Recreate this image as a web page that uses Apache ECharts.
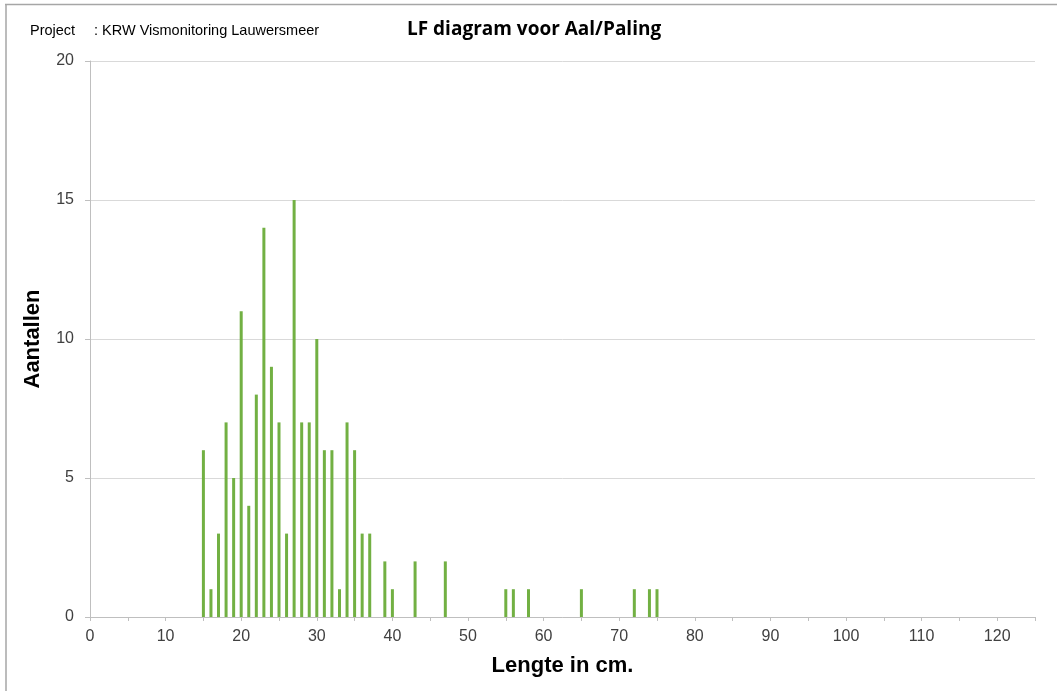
<!DOCTYPE html>
<html>
<head>
<meta charset="utf-8">
<script src="https://cdn.jsdelivr.net/npm/echarts@6/dist/echarts.min.js"></script>
<style>html,body{margin:0;padding:0;background:#fff;}#c{width:1057px;height:691px;}</style>
</head>
<body>
<div id="c"></div>
<script>
const lengths = [15,16,17,18,19,20,21,22,23,24,25,26,27,28,29,30,31,32,33,34,35,36,37,39,40,43,47,55,56,58,65,72,74,75];
const counts  = [6,1,3,7,5,11,4,8,14,9,7,3,15,7,7,10,6,6,1,7,6,3,3,2,1,2,2,1,1,1,1,1,1,1];
const xTicks = [0,10,20,30,40,50,60,70,80,90,100,110,120];
const yTicks = [0,5,10,15,20];

const chart = echarts.init(document.getElementById('c'), null, {renderer:'canvas'});
const data = lengths.map((x,i)=>[x,counts[i]]);
chart.setOption({
  animation:false,
  backgroundColor:'#ffffff',
  grid:{left:90,right:22,top:61,bottom:74,containLabel:false},
  graphic:[
    {type:'line',shape:{x1:5,y1:4.5,x2:1057,y2:4.5},style:{stroke:'#a6a6a6',lineWidth:1.5}},
    {type:'line',shape:{x1:6,y1:4,x2:6,y2:691},style:{stroke:'#a6a6a6',lineWidth:1.5}},
    {type:'text',left:30,top:23,style:{text:'Project',font:'14.5px "Liberation Sans", Arial, sans-serif',fill:'#000'}},
    {type:'text',left:94,top:23,style:{text:': KRW Vismonitoring Lauwersmeer',font:'14.5px "Liberation Sans", Arial, sans-serif',fill:'#000'}},
    {type:'text',left:407,top:20,style:{text:'LF diagram voor Aal/Paling',font:'bold 19px "Open Sans", Lato, sans-serif',fill:'#000'}}
  ],
  xAxis:{
    type:'value',min:0,max:125,interval:10,
    name:'Lengte in cm.',nameLocation:'middle',nameGap:38,
    nameTextStyle:{fontFamily:'"Liberation Sans", Arial, sans-serif',fontWeight:'bold',fontSize:22,color:'#000'},
    axisLine:{show:true,lineStyle:{color:'#bfbfbf',width:1}},
    axisTick:{show:true,length:4,lineStyle:{color:'#bfbfbf'}},
    minorTick:{show:true,splitNumber:2,length:4,lineStyle:{color:'#bfbfbf'}},
    splitLine:{show:false},
    axisLabel:{fontFamily:'"Liberation Sans", Arial, sans-serif',fontSize:16,color:'#404040',margin:12,
      formatter:function(v){return xTicks.indexOf(v)>=0? String(v):'';}}
  },
  yAxis:{
    type:'value',min:0,max:20,interval:5,
    name:'Aantallen',nameLocation:'middle',nameGap:46,nameRotate:90,
    nameTextStyle:{fontFamily:'"Liberation Sans", Arial, sans-serif',fontWeight:'bold',fontSize:22,color:'#000'},
    axisLine:{show:true,lineStyle:{color:'#bfbfbf',width:1}},
    axisTick:{show:true,length:5,lineStyle:{color:'#bfbfbf'}},
    splitLine:{show:true,lineStyle:{color:'#d9d9d9',width:1}},
    axisLabel:{fontFamily:'"Liberation Sans", Arial, sans-serif',fontSize:16,color:'#404040',margin:16,
      formatter:function(v){return yTicks.indexOf(v)>=0? String(v):'';}}
  },
  series:[{
    type:'bar',data:data,barWidth:3,
    itemStyle:{color:'#72b043'}
  }]
});
</script>
</body>
</html>
